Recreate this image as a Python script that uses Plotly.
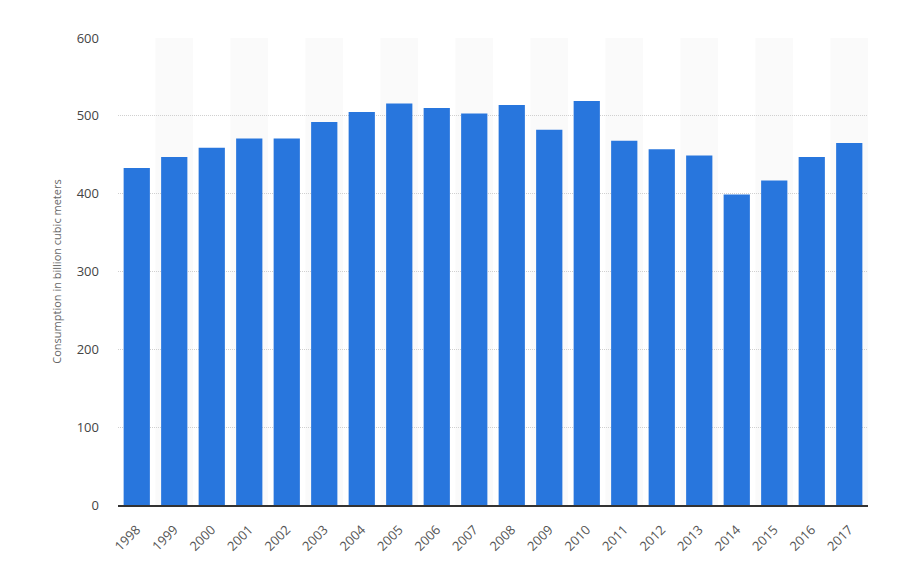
import plotly.graph_objects as go

years = [str(y) for y in range(1998, 2018)]
consumption = [433, 447, 459, 471, 471, 492, 505, 516, 510, 503,
               514, 482, 519, 468, 457, 449, 399, 417, 447, 465]

y_ticks = [0, 100, 200, 300, 400, 500, 600]

fig = go.Figure()
fig.add_trace(go.Bar(
    x=years, y=consumption,
    marker=dict(color="#2876dd", line=dict(width=0)),
    hoverinfo="x+y",
))

# alternating background bands
shapes = []
for i, yr in enumerate(years):
    if i % 2 == 1:
        shapes.append(dict(type="rect", xref="x", yref="paper",
                           x0=i - 0.5, x1=i + 0.5, y0=0, y1=1,
                           fillcolor="#fafafa", line=dict(width=0), layer="below"))

fig.update_layout(
    width=900, height=587,
    margin=dict(l=118, r=32, t=38, b=82),
    paper_bgcolor="white", plot_bgcolor="white",
    font=dict(family="Open Sans, sans-serif", color="#555"),
    bargap=0.3,
    shapes=shapes,
    showlegend=False,
    xaxis=dict(
        type="category", tickangle=-45,
        tickfont=dict(size=13, color="#555"),
        showgrid=False, showline=True, linecolor="#333", linewidth=2,
        ticks="", ticklabelstandoff=10,
    ),
    yaxis=dict(
        range=[0, 600], tickvals=y_ticks,
        tickfont=dict(size=13, color="#444"),
        showgrid=True, gridcolor="#d0d0d0", griddash="1px,1px", gridwidth=1,
        zeroline=False, showline=False, ticks="",
        ticklabelstandoff=18,
        title=dict(text="Consumption in billion cubic meters",
                   font=dict(size=11, color="#666"), standoff=12),
    ),
)

fig.write_html("out.html")
